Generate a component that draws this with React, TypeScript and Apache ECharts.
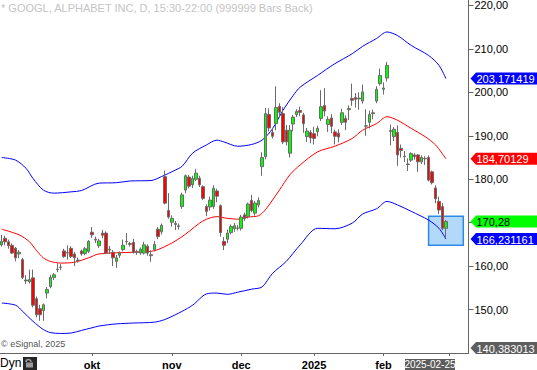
import React, { useEffect, useRef } from 'react';
import * as echarts from 'echarts';

const FONT = '"Liberation Sans", Arial, Helvetica, sans-serif';

// Trading days (last six are empty future slots on the axis)
const dates: string[] = [
  '2024-08-23', '2024-08-26', '2024-08-27', '2024-08-28', '2024-08-29', '2024-08-30',
  '2024-09-03', '2024-09-04', '2024-09-05', '2024-09-06', '2024-09-09', '2024-09-10', '2024-09-11', '2024-09-12',
  '2024-09-13', '2024-09-16', '2024-09-17', '2024-09-18', '2024-09-19', '2024-09-20', '2024-09-23', '2024-09-24',
  '2024-09-25', '2024-09-26', '2024-09-27', '2024-09-30',
  '2024-10-01', '2024-10-02', '2024-10-03', '2024-10-04', '2024-10-07', '2024-10-08', '2024-10-09', '2024-10-10',
  '2024-10-11', '2024-10-14', '2024-10-15', '2024-10-16', '2024-10-17', '2024-10-18', '2024-10-21', '2024-10-22',
  '2024-10-23', '2024-10-24', '2024-10-25', '2024-10-28', '2024-10-29', '2024-10-30', '2024-10-31',
  '2024-11-01', '2024-11-04', '2024-11-05', '2024-11-06', '2024-11-07', '2024-11-08', '2024-11-11', '2024-11-12',
  '2024-11-13', '2024-11-14', '2024-11-15', '2024-11-18', '2024-11-19', '2024-11-20', '2024-11-21', '2024-11-22',
  '2024-11-25', '2024-11-26', '2024-11-27', '2024-11-29',
  '2024-12-02', '2024-12-03', '2024-12-04', '2024-12-05', '2024-12-06', '2024-12-09', '2024-12-10', '2024-12-11',
  '2024-12-12', '2024-12-13', '2024-12-16', '2024-12-17', '2024-12-18', '2024-12-19', '2024-12-20', '2024-12-23',
  '2024-12-24', '2024-12-26', '2024-12-27', '2024-12-30', '2024-12-31',
  '2025-01-02', '2025-01-03', '2025-01-06', '2025-01-07', '2025-01-08', '2025-01-10', '2025-01-13', '2025-01-14',
  '2025-01-15', '2025-01-16', '2025-01-17', '2025-01-21', '2025-01-22', '2025-01-23', '2025-01-24', '2025-01-27',
  '2025-01-28', '2025-01-29', '2025-01-30', '2025-01-31',
  '2025-02-03', '2025-02-04', '2025-02-05', '2025-02-06', '2025-02-07', '2025-02-10', '2025-02-11', '2025-02-12',
  '2025-02-13', '2025-02-14', '2025-02-18', '2025-02-19', '2025-02-20', '2025-02-21', '2025-02-24', '2025-02-25',
  '2025-02-26', '2025-02-27', '2025-02-28',
  '2025-03-03', '2025-03-04', '2025-03-05', '2025-03-06', '2025-03-07', '2025-03-10',
];

const opens: number[] = [
  164.9, 166.4, 165.6, 164.8, 164.1, 162.8,
  161.5, 156.8, 156.4, 157.3, 152.5, 150.2, 149.8, 153.8, 155.3, 157.4, 159.2, 159.7, 163.5, 163.0,
  164.1, 162.8, 161.3, 163.5, 162.9, 163.4,
  167.8, 166.0, 164.7, 167.6, 167.6, 163.7, 163.2, 161.1, 162.5, 163.8, 165.6, 165.2, 165.5, 163.3,
  163.0, 163.0, 164.6, 162.6, 163.8, 168.5, 167.9, 180.6, 172.8,
  170.1, 169.8, 169.1, 173.7, 177.5, 180.5, 178.7, 180.0, 180.2, 178.3, 173.7, 173.6, 173.7, 177.3,
  173.9, 165.7, 166.2, 167.7, 168.6, 168.7,
  168.7, 171.8, 171.4, 175.1, 172.2, 174.1, 182.9, 185.2, 194.9, 190.8, 192.8, 196.8, 195.1, 191.3,
  186.0, 192.7, 194.9, 195.8, 194.8, 189.8, 190.8,
  190.5, 190.9, 194.0, 197.0, 192.6, 194.1, 190.9, 190.6, 193.1, 194.0, 196.0, 198.6, 198.8, 198.5,
  198.0, 192.2, 193.1, 195.1, 198.0, 202.0,
  200.7, 203.3, 191.2, 189.8, 190.8, 187.1, 185.2, 183.5, 184.4, 185.6, 185.6, 184.0, 184.8, 185.0,
  181.7, 178.0, 174.9, 173.7, 168.7,
];
const highs: number[] = [
  167.2, 167.0, 166.1, 165.2, 164.4, 163.7,
  161.9, 157.9, 159.2, 159.2, 153.0, 151.1, 151.4, 155.2, 158.0, 158.4, 160.6, 160.5, 164.0, 164.8,
  164.6, 163.3, 162.0, 163.8, 164.4, 166.0,
  169.0, 166.8, 166.3, 168.3, 168.0, 164.6, 163.7, 162.6, 163.4, 166.1, 167.6, 165.6, 166.3, 163.8,
  164.3, 165.6, 165.0, 163.6, 165.8, 169.0, 169.8, 182.0, 176.8,
  171.7, 170.4, 169.8, 176.9, 181.1, 181.0, 180.8, 182.4, 180.8, 178.6, 174.2, 176.0, 178.6, 177.8,
  174.2, 166.7, 168.4, 169.6, 169.9, 169.5,
  171.8, 172.3, 174.6, 176.4, 175.0, 175.8, 186.2, 196.4, 196.3, 191.8, 201.4, 197.5, 196.6, 192.5,
  192.5, 194.8, 196.1, 196.7, 195.3, 191.8, 191.3,
  192.1, 192.3, 200.5, 201.0, 194.5, 195.0, 191.4, 191.5, 196.2, 194.7, 197.0, 202.0, 199.8, 200.0,
  201.8, 196.1, 195.8, 196.0, 201.4, 205.5,
  202.3, 207.0, 192.6, 192.0, 192.4, 188.0, 186.5, 184.8, 186.2, 186.0, 185.8, 185.5, 185.3, 185.5,
  182.0, 178.6, 176.0, 174.5, 170.6,
];
const lows: number[] = [
  164.5, 164.8, 164.0, 162.8, 161.1, 161.8,
  157.0, 155.9, 156.0, 150.5, 148.2, 147.4, 147.4, 152.6, 154.9, 156.8, 158.6, 159.1, 161.9, 161.5,
  161.9, 160.0, 160.8, 162.4, 162.5, 163.0,
  166.5, 165.3, 164.2, 166.4, 162.8, 162.8, 160.0, 159.6, 161.9, 163.4, 164.9, 164.5, 162.9, 162.6,
  162.6, 162.7, 162.4, 161.0, 163.4, 166.2, 167.3, 174.2, 170.9,
  169.1, 168.3, 168.4, 173.2, 176.8, 177.9, 178.0, 179.6, 178.2, 175.2, 171.5, 172.8, 173.2, 174.7,
  166.8, 163.7, 165.3, 167.3, 167.9, 168.2,
  168.2, 170.4, 171.0, 172.4, 171.6, 173.5, 180.8, 184.6, 191.0, 189.4, 191.3, 194.2, 188.1, 187.8,
  185.0, 191.0, 194.3, 194.5, 190.7, 188.6, 188.3,
  188.0, 189.9, 193.4, 194.5, 190.9, 190.6, 188.0, 188.5, 192.5, 191.3, 193.6, 196.9, 196.5, 196.0,
  197.4, 190.0, 191.7, 193.8, 197.5, 201.6,
  199.5, 202.5, 187.8, 188.8, 183.1, 185.0, 184.0, 181.9, 184.0, 184.5, 181.7, 183.5, 183.3, 179.5,
  178.8, 174.5, 172.0, 168.3, 166.5,
];
const closes: number[] = [
  165.7, 165.6, 164.7, 163.0, 161.9, 163.2,
  157.4, 156.6, 156.9, 151.0, 148.8, 148.8, 151.1, 154.6, 157.4, 158.0, 159.3, 159.8, 162.2, 163.1,
  162.2, 161.9, 161.4, 162.8, 164.0, 165.7,
  167.2, 166.2, 165.8, 167.1, 163.0, 163.9, 161.9, 161.9, 163.0, 164.8, 165.7, 165.0, 163.2, 163.2,
  163.9, 164.9, 163.0, 162.4, 165.0, 166.8, 169.4, 174.5, 171.3,
  171.0, 169.6, 169.3, 176.4, 180.8, 178.4, 180.2, 181.4, 178.7, 175.6, 172.6, 175.2, 177.9, 176.1,
  167.7, 164.8, 167.6, 169.1, 169.3, 168.8,
  171.3, 171.0, 174.3, 172.8, 174.5, 175.1, 185.0, 195.1, 191.8, 189.9, 196.5, 195.4, 188.6, 188.6,
  191.3, 194.3, 195.6, 195.4, 192.8, 191.1, 189.5,
  189.4, 191.7, 196.7, 195.7, 193.8, 192.2, 189.9, 189.7, 195.3, 193.1, 196.3, 198.2, 198.4, 198.7,
  200.1, 192.3, 194.9, 195.3, 200.7, 203.9,
  201.0, 206.2, 191.0, 191.5, 185.6, 186.6, 185.3, 183.4, 185.9, 185.2, 184.0, 185.0, 184.7, 179.8,
  179.2, 175.5, 172.9, 168.7, 170.28,
];

// Bollinger bands at the listed dates
const upperBand: [string, number][] = [
  ['2024-08-23', 185.0], ['2024-08-29', 184.4], ['2024-09-04', 182.5], ['2024-09-06', 180.2],
  ['2024-09-11', 177.5], ['2024-09-16', 176.8], ['2024-09-23', 177.1], ['2024-09-26', 177.4],
  ['2024-10-03', 179.1], ['2024-10-10', 179.2], ['2024-10-16', 179.6], ['2024-10-24', 179.7],
  ['2024-10-29', 180.6], ['2024-11-04', 182.1], ['2024-11-06', 183.0], ['2024-11-11', 186.0],
  ['2024-11-15', 187.9], ['2024-11-20', 189.0], ['2024-11-22', 188.6], ['2024-11-29', 187.6],
  ['2024-12-05', 188.0], ['2024-12-10', 189.0], ['2024-12-13', 191.6], ['2024-12-18', 195.8],
  ['2024-12-23', 199.3], ['2024-12-26', 201.2], ['2025-01-03', 203.9], ['2025-01-13', 206.6],
  ['2025-01-21', 208.9], ['2025-01-24', 210.6], ['2025-01-30', 212.4], ['2025-02-04', 213.9],
  ['2025-02-07', 213.1], ['2025-02-13', 210.8], ['2025-02-21', 208.5], ['2025-02-26', 206.2],
  ['2025-02-28', 203.171419],
];
const middleBand: [string, number][] = [
  ['2024-08-23', 168.5], ['2024-08-30', 167.2], ['2024-09-05', 165.6], ['2024-09-09', 163.6],
  ['2024-09-11', 161.9], ['2024-09-13', 161.1], ['2024-09-18', 160.7], ['2024-09-24', 160.9],
  ['2024-09-30', 161.9], ['2024-10-03', 162.8], ['2024-10-17', 163.2], ['2024-10-24', 163.4],
  ['2024-10-28', 163.8], ['2024-11-01', 165.3], ['2024-11-06', 166.8], ['2024-11-08', 168.0],
  ['2024-11-13', 169.9], ['2024-11-15', 170.8], ['2024-11-20', 171.4], ['2024-11-25', 171.0],
  ['2024-11-29', 170.8], ['2024-12-04', 171.3], ['2024-12-09', 171.6], ['2024-12-11', 173.0],
  ['2024-12-17', 177.5], ['2024-12-20', 181.0], ['2024-12-26', 183.3], ['2025-01-03', 186.3],
  ['2025-01-13', 187.6], ['2025-01-21', 189.4], ['2025-01-24', 191.3], ['2025-01-30', 192.8],
  ['2025-02-04', 194.4], ['2025-02-07', 193.6], ['2025-02-13', 191.7], ['2025-02-20', 189.8],
  ['2025-02-25', 187.9], ['2025-02-28', 184.70129],
];
const lowerBand: [string, number][] = [
  ['2024-08-23', 151.5], ['2024-08-29', 151.0], ['2024-09-03', 149.6], ['2024-09-06', 147.3],
  ['2024-09-11', 145.4], ['2024-09-13', 144.7], ['2024-09-18', 144.5], ['2024-09-23', 144.6],
  ['2024-09-26', 145.2], ['2024-10-01', 145.8], ['2024-10-03', 146.2], ['2024-10-10', 146.7],
  ['2024-10-17', 146.9], ['2024-10-25', 147.1], ['2024-10-30', 147.7], ['2024-11-04', 148.8],
  ['2024-11-06', 149.6], ['2024-11-11', 151.0], ['2024-11-15', 153.6], ['2024-11-20', 153.8],
  ['2024-11-25', 153.5], ['2024-11-29', 154.0], ['2024-12-05', 154.7], ['2024-12-10', 155.2],
  ['2024-12-13', 158.3], ['2024-12-19', 161.1], ['2024-12-26', 164.9], ['2025-01-03', 168.7],
  ['2025-01-13', 168.6], ['2025-01-21', 169.9], ['2025-01-24', 172.0], ['2025-01-30', 173.2],
  ['2025-02-04', 174.9], ['2025-02-07', 174.1], ['2025-02-13', 172.6], ['2025-02-21', 170.6],
  ['2025-02-26', 168.7], ['2025-02-28', 166.231161],
];

const yTicks = [150, 160, 170, 180, 190, 200, 210, 220];
// 170,00 is hidden behind the last-price tag in the reference
const yLabels = [150, 160, 180, 190, 200, 210, 220];
const monthStarts = ['2024-10-01', '2024-11-01', '2024-12-02', '2025-01-02', '2025-02-03', '2025-03-03'];
const monthLabels = ['okt', 'nov', 'dec', '2025', 'feb', ''];

const tagValues = [203.171419, 184.70129, 170.28, 166.231161, 140.383013];
const tagColors = ['#0000ff', '#ff0000', '#00ff00', '#0000ff', '#5e5e5e'];
const tagTextColors = ['#ffffff', '#ffffff', '#000000', '#ffffff', '#ffffff'];

const boxFrom = '2025-02-21';
const boxTo = '2025-03-07';
const boxTop = 171.5;
const boxBottom = 164.8;

const cursorDate = '2025-02-25';
const titleText = '* GOOGL, ALPHABET INC, D, 15:30-22:00 (999999 Bars Back)';
const copyrightText = '\u00a9 eSignal, 2025';

const idx = (d: string) => dates.indexOf(d);
const toPairs = (arr: [string, number][]) => arr.map(([d, v]) => [idx(d), v]);
const isMonthStart = (_i: number, v: string) => monthStarts.indexOf(v) >= 0;

export default function App() {
  const ref = useRef<HTMLDivElement>(null);

  useEffect(() => {
    document.body.style.margin = '0';
    const chart = echarts.init(ref.current!, null, { renderer: 'svg' });

    const candles = opens.map((o, i) => [o, closes[i], lows[i], highs[i]]);

    const bandLine = (name: string, data: [string, number][], color: string) => ({
      name,
      type: 'line',
      data: toPairs(data),
      showSymbol: false,
      symbol: 'none',
      smooth: 0.3,
      z: 2,
      lineStyle: { color, width: 1 },
      silent: true,
    });

    const option: any = {
      animation: false,
      grid: { left: 0, top: 0, right: 68.5, bottom: 16 },
      xAxis: {
        type: 'category',
        data: dates,
        boundaryGap: true,
        axisLine: { show: true, lineStyle: { color: '#666666', width: 1 } },
        axisTick: {
          show: true,
          alignWithLabel: true,
          interval: isMonthStart,
          length: 3,
          lineStyle: { color: '#666666' },
        },
        axisLabel: {
          interval: isMonthStart,
          formatter: (v: string) => {
            const k = monthStarts.indexOf(v);
            return k >= 0 ? monthLabels[k] : '';
          },
          color: '#000000',
          fontWeight: 'bold',
          fontSize: 11,
          fontFamily: FONT,
          margin: 6,
        },
        splitLine: { show: false },
      },
      yAxis: {
        type: 'value',
        position: 'right',
        min: 140,
        max: 221.25,
        interval: 10,
        axisLine: { show: true, lineStyle: { color: '#666666', width: 1 } },
        axisTick: { show: true, length: 5, customValues: yTicks, lineStyle: { color: '#666666' } },
        axisLabel: {
          customValues: yLabels,
          formatter: (v: number) => (yLabels.indexOf(v) >= 0 ? v.toFixed(2).replace('.', ',') : ''),
          color: '#000000',
          fontSize: 11,
          fontFamily: FONT,
          margin: 6,
        },
        splitLine: { show: false },
      },
      series: [
        {
          name: 'box',
          type: 'line',
          data: [],
          silent: true,
          markArea: {
            silent: true,
            z: 1,
            itemStyle: { color: '#b3d9fa', borderColor: '#2b8ae6', borderWidth: 1.5 },
            data: [[{ coord: [idx(boxFrom), boxTop] }, { coord: [idx(boxTo), boxBottom] }]],
          },
        },
        bandLine('upper', upperBand, '#0000ff'),
        bandLine('middle', middleBand, '#ff0000'),
        bandLine('lower', lowerBand, '#0000ff'),
        {
          name: 'GOOGL',
          type: 'candlestick',
          data: candles,
          barWidth: 3,
          z: 3,
          silent: true,
          itemStyle: {
            color: '#00ff00',
            color0: '#ff0000',
            borderColor: '#6b6b6b',
            borderColor0: '#6b6b6b',
            borderWidth: 1,
          },
        },
      ],
    };

    chart.setOption(option);

    const axisX = 468.5;
    const tagGraphics: any[] = [];
    tagValues.forEach((v, k) => {
      let yc = chart.convertToPixel({ yAxisIndex: 0 }, v) as number;
      yc = Math.min(yc, 348);
      tagGraphics.push({
        type: 'polygon',
        shape: {
          points: [
            [axisX + 2, yc],
            [axisX + 7.5, yc - 6],
            [537, yc - 6],
            [537, yc + 6],
            [axisX + 7.5, yc + 6],
          ],
        },
        style: { fill: tagColors[k] },
        z: 10,
      });
      tagGraphics.push({
        type: 'text',
        x: axisX + 8,
        y: yc + 0.5,
        z: 11,
        style: {
          text: String(v).replace('.', ','),
          fill: tagTextColors[k],
          font: `11px ${FONT}`,
          align: 'left',
          verticalAlign: 'middle',
          textAlign: 'left',
          textVerticalAlign: 'middle',
        },
      });
    });

    const cursorX = 430;
    const staticGraphics: any[] = [
      {
        type: 'text',
        x: 1,
        y: 8,
        z: 10,
        style: {
          text: titleText,
          fill: '#c4c4c4',
          font: `11px ${FONT}`,
          align: 'left',
          verticalAlign: 'middle',
          textAlign: 'left',
          textVerticalAlign: 'middle',
        },
      },
      {
        type: 'text',
        x: 1,
        y: 344,
        z: 10,
        style: {
          text: copyrightText,
          fill: '#555555',
          font: `9px ${FONT}`,
          align: 'left',
          verticalAlign: 'middle',
          textAlign: 'left',
          textVerticalAlign: 'middle',
        },
      },
      {
        type: 'text',
        x: 0,
        y: 363,
        z: 10,
        style: {
          text: 'Dyn',
          fill: '#000000',
          font: `12px ${FONT}`,
          align: 'left',
          verticalAlign: 'middle',
          textAlign: 'left',
          textVerticalAlign: 'middle',
        },
      },
      { type: 'rect', shape: { x: 23, y: 357, width: 14, height: 13 }, style: { fill: '#262626' }, z: 10 },
      {
        type: 'arc',
        shape: { cx: 28.5, cy: 362, r: 2.5, startAngle: Math.PI, endAngle: Math.PI * 2 },
        style: { stroke: '#9a9a9a', lineWidth: 1.5, fill: 'none' },
        z: 11,
      },
      { type: 'rect', shape: { x: 26, y: 362.5, width: 7, height: 5 }, style: { fill: '#9a9a9a' }, z: 11 },
      {
        type: 'rect',
        shape: { x: cursorX - 25, y: 359, width: 50, height: 11 },
        style: { fill: '#5c5c5c' },
        z: 10,
      },
      {
        type: 'text',
        x: cursorX,
        y: 364.5,
        z: 11,
        style: {
          text: cursorDate,
          fill: '#ffffff',
          font: `10px ${FONT}`,
          align: 'center',
          verticalAlign: 'middle',
          textAlign: 'center',
          textVerticalAlign: 'middle',
        },
      },
    ];

    chart.setOption({ graphic: { elements: [...staticGraphics, ...tagGraphics] } });

    return () => chart.dispose();
  }, []);

  return <div ref={ref} style={{ width: 537, height: 370 }} />;
}
